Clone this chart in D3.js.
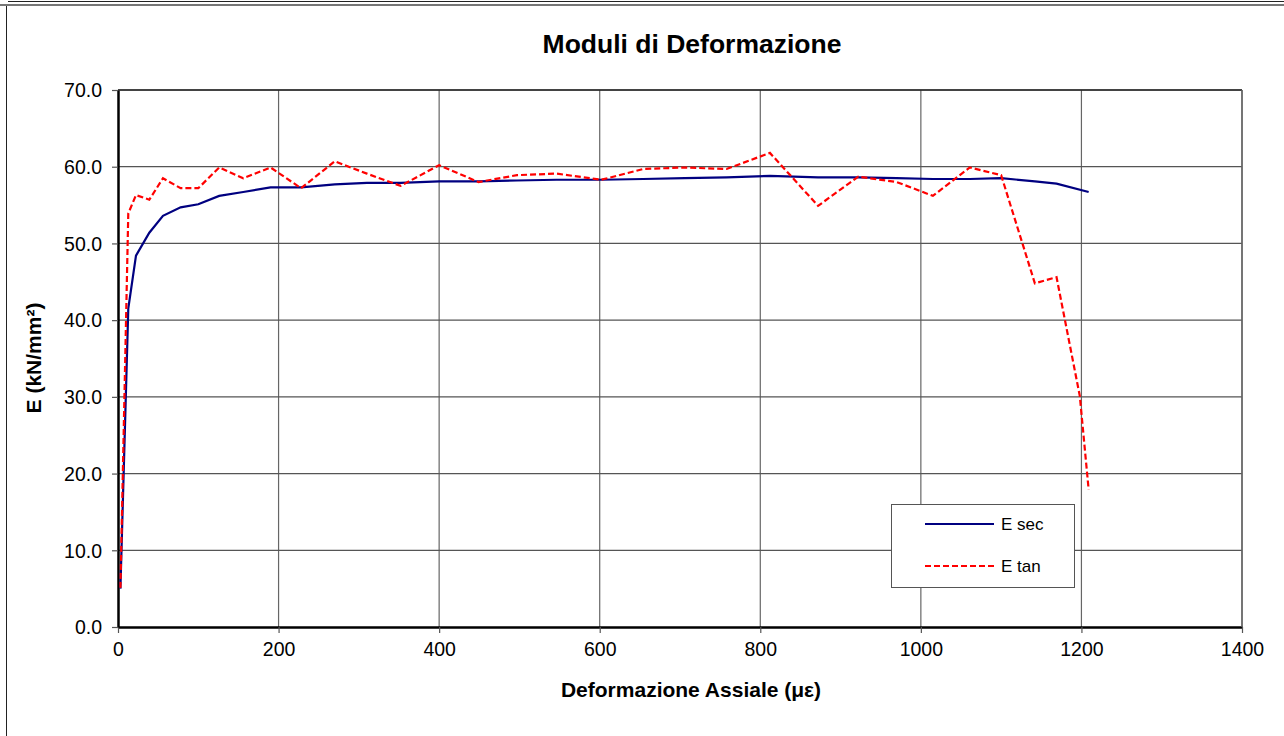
<!DOCTYPE html>
<html>
<head>
<meta charset="utf-8">
<script src="https://cdn.jsdelivr.net/npm/d3@7"></script>
<style>
html,body{margin:0;padding:0;background:#fff;}
svg{display:block;font-family:"Liberation Sans",Arial,sans-serif;}
</style>
</head>
<body>
<svg id="chart" width="1284" height="736"></svg>
<script>
// ---- data ----
const title = "Moduli di Deformazione";
const xTitle = "Deformazione Assiale (\u03bc\u03b5)";
const yTitle = "E (kN/mm\u00b2)";
const seriesNames = ["E sec", "E tan"];
const xTicks = [0,200,400,600,800,1000,1200,1400];
const yTicks = [0,10,20,30,40,50,60,70];

const strainSec = [3,12.8,22.4,39,56,78,100,126,156,190,228,270,310,352,400,449,497,546,602,654,706,758,812,872,922,970,1015,1061,1100,1142,1169,1209];
const eSec      = [5.0,41.5,48.4,51.4,53.6,54.7,55.1,56.2,56.7,57.3,57.3,57.7,57.9,57.9,58.1,58.1,58.2,58.3,58.3,58.4,58.5,58.6,58.8,58.6,58.6,58.5,58.4,58.4,58.5,58.1,57.8,56.7];

const strainTan = [3,12.8,22.4,39,56,78,100,126,156,190,228,270,310,352,400,449,497,546,602,654,706,758,812,872,922,970,1015,1061,1100,1142,1169,1198,1209];
const eTan      = [5.1,53.9,56.3,55.7,58.5,57.2,57.2,59.9,58.5,59.9,57.2,60.7,59.1,57.5,60.2,58.0,58.9,59.1,58.3,59.7,59.9,59.7,61.8,54.9,58.7,58.0,56.2,59.9,58.9,44.8,45.6,30.1,17.9];

// ---- layout ----
const svg = d3.select("#chart");
const W = 1284, H = 736;
const L = 118, R = 1242, T = 90, B = 627;

// outer frame
svg.append("line").attr("x1",8).attr("x2",W).attr("y1",1.5).attr("y2",1.5).attr("stroke","#222").attr("stroke-width",1);
svg.append("line").attr("x1",0).attr("x2",W).attr("y1",5).attr("y2",5).attr("stroke","#777").attr("stroke-width",2);
svg.append("line").attr("x1",6.5).attr("x2",6.5).attr("y1",6).attr("y2",H).attr("stroke","#222").attr("stroke-width",1);

const x = d3.scaleLinear().domain([0,1400]).range([L,R]);
const y = d3.scaleLinear().domain([0,70]).range([B,T]);

// grid
const g = svg.append("g");
g.selectAll(".vg").data(xTicks.slice(1)).join("line")
  .attr("x1",d=>x(d)).attr("x2",d=>x(d)).attr("y1",T).attr("y2",B)
  .attr("stroke","#666").attr("stroke-width",1.2);
g.selectAll(".hg").data(yTicks.slice(1)).join("line")
  .attr("x1",L).attr("x2",R).attr("y1",d=>y(d)).attr("y2",d=>y(d))
  .attr("stroke","#555").attr("stroke-width",1.2);

// axes
const xAxis = d3.axisBottom(x).tickValues(xTicks).tickFormat(d3.format("d")).tickSize(6).tickSizeOuter(0);
const yAxis = d3.axisLeft(y).tickValues(yTicks).tickFormat(d3.format(".1f")).tickSize(6).tickSizeOuter(0);
const gx = svg.append("g").attr("transform",`translate(0,${B})`).call(xAxis);
const gy = svg.append("g").attr("transform",`translate(${L},0)`).call(yAxis);
[gx,gy].forEach(a=>{
  a.select(".domain").attr("stroke","#000").attr("stroke-width",2.5);
  a.selectAll(".tick line").attr("stroke","#555").attr("stroke-width",1.2);
  a.selectAll(".tick text").attr("font-family","'Liberation Sans',Arial,sans-serif").attr("font-size",19.5).attr("fill","#000");
});
gx.selectAll(".tick text").attr("y",12).attr("dy","0.85em");
gy.selectAll(".tick text").attr("x",-16).attr("dy","0.35em");

// plot frame top/right
svg.append("line").attr("x1",L).attr("x2",R).attr("y1",T).attr("y2",T).attr("stroke","#222").attr("stroke-width",1.5);
svg.append("line").attr("x1",R).attr("x2",R).attr("y1",T).attr("y2",B).attr("stroke","#666").attr("stroke-width",1.5);

// lines
const lineGen = d3.line().x(d=>x(d[0])).y(d=>y(d[1]));
const secData = d3.zip(strainSec,eSec);
const tanData = d3.zip(strainTan,eTan);
svg.append("path").datum(secData).attr("d",lineGen).attr("fill","none")
  .attr("stroke","#000080").attr("stroke-width",2.2);
svg.append("path").datum(tanData).attr("d",lineGen).attr("fill","none")
  .attr("stroke","#ff0000").attr("stroke-width",2.2).attr("stroke-dasharray","6,3");

// titles
svg.append("text").attr("x",692).attr("y",53).attr("text-anchor","middle")
  .attr("font-size",26.5).attr("font-weight","bold").text(title);
svg.append("text").attr("x",691).attr("y",697).attr("text-anchor","middle")
  .attr("font-size",21).attr("font-weight","bold").text(xTitle);
svg.append("text").attr("transform","translate(41,358) rotate(-90)").attr("text-anchor","middle")
  .attr("font-size",21).attr("font-weight","bold").text(yTitle);

// legend
const lg = svg.append("g");
lg.append("rect").attr("x",891.5).attr("y",504.5).attr("width",183).attr("height",83)
  .attr("fill","#fff").attr("stroke","#555").attr("stroke-width",1);
const legItems = [
  {name:seriesNames[0], color:"#000080", dash:null, yy:524},
  {name:seriesNames[1], color:"#ff0000", dash:"6,3", yy:566}
];
legItems.forEach(it=>{
  lg.append("line").attr("x1",925).attr("x2",994).attr("y1",it.yy).attr("y2",it.yy)
    .attr("stroke",it.color).attr("stroke-width",2.2).attr("stroke-dasharray",it.dash);
  lg.append("text").attr("x",1001).attr("y",it.yy+6).attr("font-size",17).text(it.name);
});
</script>
</body>
</html>
